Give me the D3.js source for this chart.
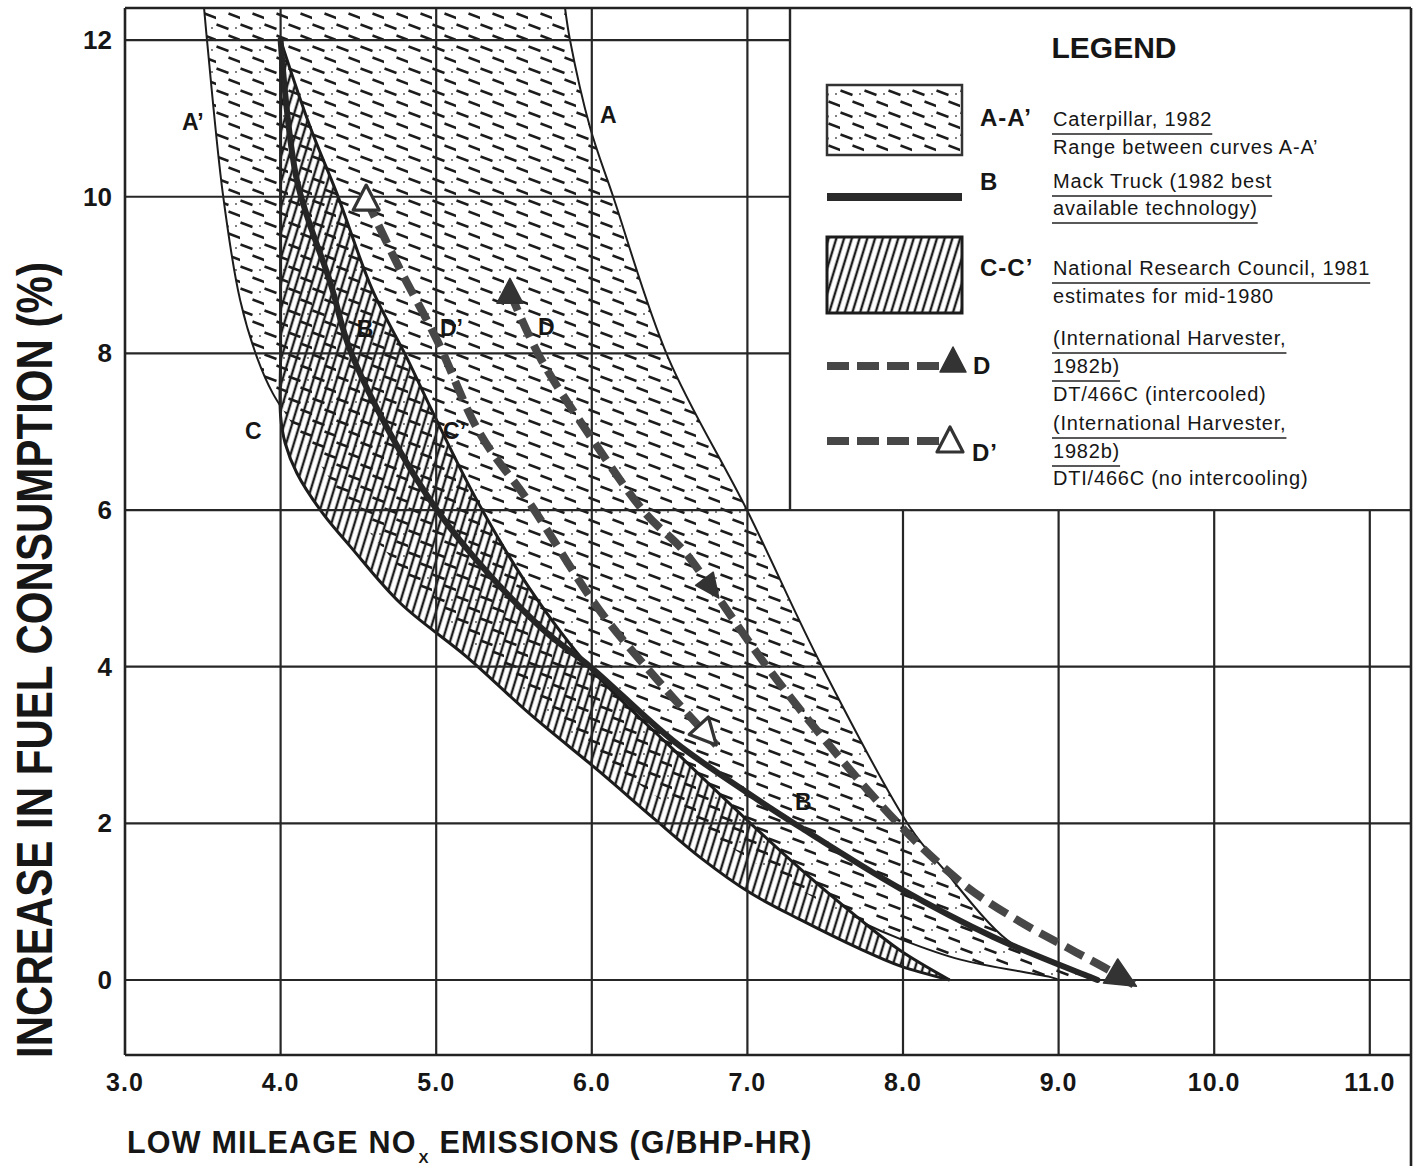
<!DOCTYPE html>
<html>
<head>
<meta charset="utf-8">
<script src="https://cdnjs.cloudflare.com/ajax/libs/d3/7.8.5/d3.min.js"></script>
<style>
  html, body { margin: 0; padding: 0; background: #fff; }
  svg { display: block; }
  text { font-family: "Liberation Sans", Arial, Helvetica, sans-serif; fill: #161616; }
</style>
</head>
<body>
<svg id="chart" width="1420" height="1166"></svg>
<script>
// ---- axis ticks -------------------------------------------------------
const xTicks = [3, 4, 5, 6, 7, 8, 9, 10, 11];
const xTickLabels = ["3.0", "4.0", "5.0", "6.0", "7.0", "8.0", "9.0", "10.0", "11.0"];
const yTicks = [0, 2, 4, 6, 8, 10, 12];
const yTickLabels = ["0", "2", "4", "6", "8", "10", "12"];

// ---- curves: [NOx g/bhp-hr, fuel consumption increase %] ----------------
// A : Caterpillar 1982, upper limit of range
const curveA = [[5.828, 12.41], [5.86, 12.0], [5.988, 10.89], [6.136, 10.01], [6.49, 7.95],
  [6.997, 6.0], [7.48, 4.0], [8.045, 1.95], [8.25, 1.44], [8.67, 0.51], [8.945, 0.23],
  [9.2, 0.04], [9.25, 0.0]];
// A' : Caterpillar 1982, lower limit of range
const curveAPrime = [[3.508, 12.41], [3.527, 12.0], [3.63, 10.02], [3.74, 8.68], [3.85, 7.94],
  [3.95, 7.49], [4.19, 6.77], [4.51, 5.87], [4.96, 4.85], [5.54, 3.70], [6.18, 2.68],
  [6.82, 1.79], [7.34, 1.15], [7.72, 0.75], [8.0, 0.51], [8.37, 0.26], [8.96, 0.03], [9.0, 0.0]];
// B : Mack Truck, 1982 best available technology
const curveB = [[4.0, 12.0], [4.105, 10.21], [4.32, 8.9], [4.465, 7.95], [5.005, 6.0],
  [5.667, 4.51], [5.99, 4.0], [6.52, 3.06], [7.0, 2.39], [7.34, 1.95], [7.98, 1.17],
  [8.58, 0.55], [9.2, 0.04], [9.25, 0.0]];
// C : National Research Council 1981, lower edge of band
const curveC = [[4.0, 12.0], [4.0, 10.0], [4.0, 8.0], [4.0, 7.2], [4.03, 6.85], [4.105, 6.47],
  [4.27, 5.96], [4.45, 5.53], [4.77, 4.81], [5.2, 4.12], [5.6, 3.4], [6.05, 2.66], [6.4, 2.06],
  [6.7, 1.56], [7.02, 1.11], [7.34, 0.77], [7.72, 0.4], [7.98, 0.18], [8.3, 0.0]];
// C' : National Research Council 1981, upper edge of band
const curveCPrime = [[4.0, 12.0], [4.19, 10.89], [4.36, 10.05], [4.59, 8.81], [4.81, 7.95],
  [4.98, 7.24], [5.26, 6.13], [5.6, 5.0], [5.99, 3.98], [6.52, 2.95], [7.02, 2.0],
  [7.34, 1.42], [7.72, 0.78], [7.98, 0.38], [8.3, 0.0]];
// D : International Harvester DT/466C (intercooled)
const seriesD = [[5.474, 8.78], [5.667, 7.95], [6.008, 6.89], [6.34, 5.97], [6.586, 5.49],
  [6.77, 5.0], [7.126, 4.0], [7.55, 2.94], [8.026, 1.88], [8.41, 1.19], [8.73, 0.77],
  [9.05, 0.42], [9.33, 0.12], [9.5, -0.08]];
// D' : International Harvester DTI/466C (no intercooling)
const seriesDPrime = [[4.55, 9.97], [4.748, 9.15], [5.005, 8.17], [5.28, 6.98], [5.6, 6.09],
  [6.05, 4.72], [6.48, 3.7], [6.8, 3.0]];

// ---- legend content -------------------------------------------------------
const legendKeys = ["A-A\u2019", "B", "C-C\u2019", "D", "D\u2019"];
const legendText = [
  ["Caterpillar, 1982", "Range between curves A-A\u2019"],
  ["Mack Truck (1982 best", "available technology)"],
  ["National Research Council, 1981", "estimates for mid-1980"],
  ["(International Harvester,", "1982b)", "DT/466C (intercooled)"],
  ["(International Harvester,", "1982b)", "DTI/466C (no intercooling)"]
];
const legendUnderlined = [[1, 0], [1, 1], [1, 0], [1, 1, 0], [1, 1, 0]];

// ---- scales -------------------------------------------------------------
const X0 = 125, X1 = 1411, Y0 = 8, Y1 = 1055;
const x = d3.scaleLinear().domain([3, 3 + (X1 - X0) / 155.6]).range([X0, X1]);
const y = d3.scaleLinear().domain([-0.9575, 12.41]).range([Y1, Y0]);

const svg = d3.select("#chart");
const defs = svg.append("defs");
const INK = "#1c1c1c";

// short slanted dashes for the Caterpillar range
const dashPat = defs.append("pattern").attr("id", "dashes")
  .attr("patternUnits", "userSpaceOnUse").attr("width", 24).attr("height", 22);
dashPat.append("path").attr("d", "M0.5,2.5L12.5,7M12.5,13.5L24.5,18")
  .attr("stroke", INK).attr("stroke-width", 2.5).attr("fill", "none");
dashPat.append("circle").attr("cx", 20).attr("cy", 6).attr("r", 0.9).attr("fill", "#444");

// steep hatching for the NRC band
const hatch = defs.append("pattern").attr("id", "hatch")
  .attr("patternUnits", "userSpaceOnUse").attr("width", 7.4).attr("height", 30)
  .attr("patternTransform", "rotate(17)");
hatch.append("line").attr("x1", 3.7).attr("y1", -2).attr("x2", 3.7).attr("y2", 32)
  .attr("stroke", INK).attr("stroke-width", 2.4);

const line = d3.line().x(d => x(d[0])).y(d => y(d[1])).curve(d3.curveCatmullRom.alpha(0.5));
const joinBand = (a, b) => line(a) + "L" + line(b.slice().reverse()).slice(1) + "Z";

const rangeA = joinBand(curveAPrime, curveA);
const bandC = joinBand(curveC, curveCPrime);

defs.append("clipPath").attr("id", "plotClip").append("rect")
  .attr("x", X0).attr("y", Y0).attr("width", X1 - X0).attr("height", Y1 - Y0);

const mask = defs.append("mask").attr("id", "outsideC").attr("maskUnits", "userSpaceOnUse")
  .attr("x", 0).attr("y", 0).attr("width", 1420).attr("height", 1166);
mask.append("rect").attr("width", 1420).attr("height", 1166).attr("fill", "white");
mask.append("path").attr("d", bandC).attr("fill", "black");

const plot = svg.append("g").attr("clip-path", "url(#plotClip)");

plot.append("path").attr("d", rangeA).attr("fill", "url(#dashes)");
plot.append("path").attr("d", bandC).attr("fill", "url(#hatch)");

// grid
const grid = svg.append("g").attr("stroke", "#262626").attr("stroke-width", 2.2);
grid.selectAll(".vx").data(xTicks.slice(1)).join("line")
  .attr("x1", d => x(d)).attr("x2", d => x(d)).attr("y1", Y0).attr("y2", Y1);
grid.selectAll(".hy").data(yTicks).join("line")
  .attr("x1", X0).attr("x2", X1).attr("y1", d => y(d)).attr("y2", d => y(d));

// curve outlines
plot.append("path").attr("d", line(curveAPrime)).attr("fill", "none")
  .attr("stroke", INK).attr("stroke-width", 2).attr("mask", "url(#outsideC)");
plot.append("path").attr("d", line(curveA)).attr("fill", "none")
  .attr("stroke", INK).attr("stroke-width", 2);
[curveC, curveCPrime].forEach(c => plot.append("path").attr("d", line(c))
  .attr("fill", "none").attr("stroke", INK).attr("stroke-width", 3));
plot.append("path").attr("d", line(curveB)).attr("fill", "none")
  .attr("stroke", "#262626").attr("stroke-width", 6).attr("stroke-linecap", "round");

// dashed IH series
const DASH_INK = "#474747";
[seriesD, seriesDPrime].forEach(s => svg.append("path").attr("d", line(s)).attr("fill", "none")
  .attr("stroke", DASH_INK).attr("stroke-width", 8).attr("stroke-dasharray", "20 9"));

function upTriangle(cx, cy, filled) {
  svg.append("path")
    .attr("d", `M${cx},${cy - 14}L${cx + 13},${cy + 11}L${cx - 13},${cy + 11}Z`)
    .attr("fill", filled ? "#333" : "#fff").attr("stroke", "#333")
    .attr("stroke-width", filled ? 1.5 : 3.2).attr("stroke-linejoin", "round");
}
function arrowAt(p, q, len, half, filled, shift) {
  // arrowhead pointing from p toward q, tip placed at q moved by shift*len along the direction
  const x1 = x(p[0]), y1 = y(p[1]), x2 = x(q[0]), y2 = y(q[1]);
  const L = Math.hypot(x2 - x1, y2 - y1), ux = (x2 - x1) / L, uy = (y2 - y1) / L;
  const tx = x2 + ux * len * shift, ty = y2 + uy * len * shift;
  const bx = tx - ux * len, by = ty - uy * len;
  svg.append("path")
    .attr("d", `M${tx},${ty}L${bx - uy * half},${by + ux * half}L${bx + uy * half},${by - ux * half}Z`)
    .attr("fill", filled ? "#333" : "#fff").attr("stroke", "#333")
    .attr("stroke-width", filled ? 1.5 : 3.2).attr("stroke-linejoin", "round");
}
upTriangle(x(seriesD[0][0]), y(seriesD[0][1]), true);
upTriangle(x(seriesDPrime[0][0]), y(seriesDPrime[0][1]), false);
arrowAt(seriesD[4], seriesD[5], 24, 11, true, 0.5);
arrowAt(seriesD[seriesD.length - 2], seriesD[seriesD.length - 1], 30, 14, true, 0);
arrowAt(seriesDPrime[seriesDPrime.length - 2], seriesDPrime[seriesDPrime.length - 1], 26, 13, false, 0);

// curve labels (positions in data units)
const curveLabelSpots = [
  ["A\u2019", 3.366, 10.85], ["A", 6.053, 10.94], ["B", 4.49, 8.21], ["D\u2019", 5.024, 8.22],
  ["D", 5.654, 8.23], ["C", 3.771, 6.91], ["C\u2019", 5.044, 6.91], ["B", 7.306, 2.17]
];
svg.append("g").selectAll("text").data(curveLabelSpots).join("text")
  .attr("x", d => x(d[1])).attr("y", d => y(d[2]))
  .attr("font-size", 23).attr("font-weight", 700).text(d => d[0]);

// ---- legend box ----------------------------------------------------------
const LX = 790, LB = y(6);
svg.append("rect").attr("x", LX).attr("y", Y0).attr("width", X1 - LX).attr("height", LB - Y0 - 1)
  .attr("fill", "#fff");
svg.append("line").attr("x1", LX).attr("x2", LX).attr("y1", Y0).attr("y2", LB)
  .attr("stroke", "#262626").attr("stroke-width", 2.4);

svg.append("text").attr("x", 1114).attr("y", 58).attr("text-anchor", "middle")
  .attr("font-size", 30).attr("font-weight", 700).text("LEGEND");

// swatches
svg.append("rect").attr("x", 827).attr("y", 85).attr("width", 135).attr("height", 70)
  .attr("fill", "url(#dashes)").attr("stroke", "#333").attr("stroke-width", 2.5);
svg.append("line").attr("x1", 827).attr("x2", 962).attr("y1", 197).attr("y2", 197)
  .attr("stroke", "#2a2a2a").attr("stroke-width", 8);
svg.append("rect").attr("x", 827).attr("y", 237).attr("width", 135).attr("height", 76)
  .attr("fill", "url(#hatch)").attr("stroke", INK).attr("stroke-width", 3);
svg.append("line").attr("x1", 827).attr("x2", 944).attr("y1", 366).attr("y2", 366)
  .attr("stroke", DASH_INK).attr("stroke-width", 8).attr("stroke-dasharray", "22 8");
upTriangle(953, 361, true);
svg.append("line").attr("x1", 827).attr("x2", 940).attr("y1", 441).attr("y2", 441)
  .attr("stroke", DASH_INK).attr("stroke-width", 8).attr("stroke-dasharray", "22 8");
upTriangle(950, 441, false);

const keySpots = [[980, 126], [980, 190], [980, 276], [973, 374], [972, 461]];
svg.append("g").selectAll("text").data(legendKeys).join("text")
  .attr("x", (d, i) => keySpots[i][0]).attr("y", (d, i) => keySpots[i][1])
  .attr("font-size", 24).attr("font-weight", 700).attr("letter-spacing", 1).text(d => d);

const lineBaselines = [[126, 154], [188, 215], [275, 303], [345, 373, 401], [430, 458, 485]];
const legendG = svg.append("g");
legendText.forEach((lines, i) => {
  lines.forEach((t, j) => {
    const tx = legendG.append("text").attr("x", 1053).attr("y", lineBaselines[i][j])
      .attr("font-size", 20).attr("letter-spacing", 0.8).text(t);
    if (legendUnderlined[i][j]) {
      const w = tx.node().getComputedTextLength();
      legendG.append("line").attr("x1", 1052).attr("x2", 1053 + w)
        .attr("y1", lineBaselines[i][j] + 8).attr("y2", lineBaselines[i][j] + 8)
        .attr("stroke", "#222").attr("stroke-width", 1.6);
    }
  });
});

// ---- frame ---------------------------------------------------------------
const frame = svg.append("g").attr("stroke", "#222").attr("stroke-width", 2.6);
frame.append("line").attr("x1", X0).attr("x2", X0).attr("y1", Y0).attr("y2", Y1);
frame.append("line").attr("x1", X0).attr("x2", X1).attr("y1", Y0).attr("y2", Y0);
frame.append("line").attr("x1", X0).attr("x2", X1).attr("y1", Y1).attr("y2", Y1);
frame.append("line").attr("x1", X1).attr("x2", X1).attr("y1", Y0).attr("y2", 1166);

// ---- tick labels ---------------------------------------------------------
svg.append("g").selectAll("text").data(xTicks).join("text")
  .attr("x", d => x(d)).attr("y", 1091).attr("text-anchor", "middle")
  .attr("font-size", 25).attr("font-weight", 700).attr("letter-spacing", 1)
  .text((d, i) => xTickLabels[i]);
svg.append("g").selectAll("text").data(yTicks).join("text")
  .attr("x", 112).attr("y", d => y(d) + 9).attr("text-anchor", "end")
  .attr("font-size", 26).attr("font-weight", 700)
  .text((d, i) => yTickLabels[i]);

// ---- axis titles ---------------------------------------------------------
const xt = svg.append("text").attr("x", 127).attr("y", 1153)
  .attr("font-size", 30.5).attr("font-weight", 700).attr("letter-spacing", 1.2);
xt.append("tspan").text("LOW MILEAGE NO");
xt.append("tspan").attr("font-size", 15).attr("dx", 2).attr("dy", 10).text("X");
xt.append("tspan").attr("dy", -10).text(" EMISSIONS (G/BHP-HR)");

svg.append("text").attr("transform", "translate(52,660) rotate(-90)")
  .attr("text-anchor", "middle").attr("font-size", 50).attr("font-weight", 700)
  .attr("textLength", 796).attr("lengthAdjust", "spacingAndGlyphs")
  .text("INCREASE IN FUEL CONSUMPTION (%)");
</script>
</body>
</html>
